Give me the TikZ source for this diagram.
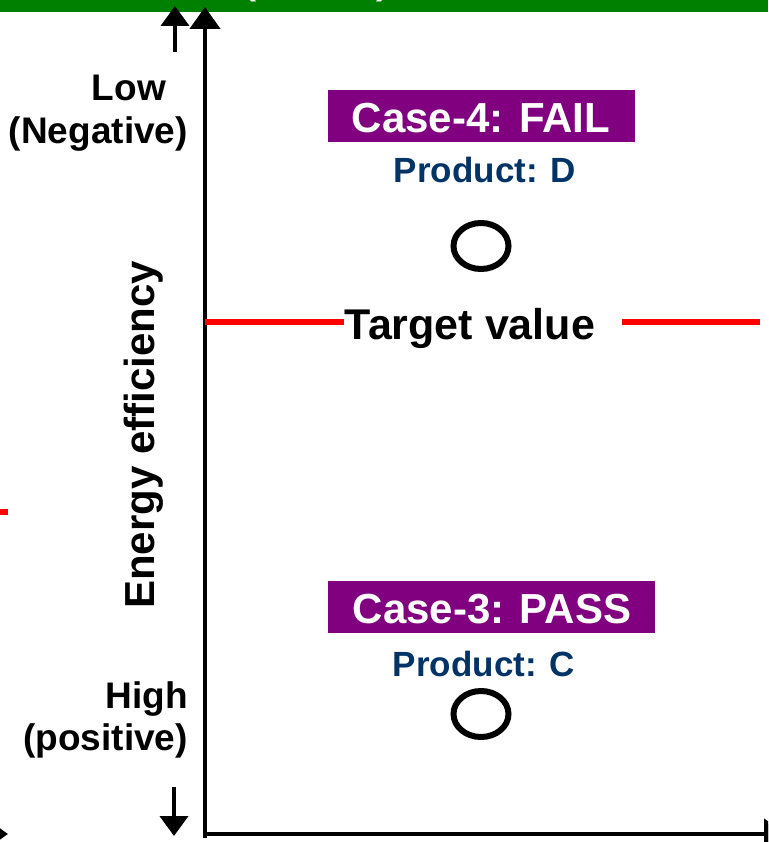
\documentclass[tikz,border=0pt]{standalone}
\usepackage{fontspec}
\setmainfont{Liberation Sans}
\usetikzlibrary{arrows.meta,shapes.geometric}
\definecolor{barGreen}{RGB}{0,128,0}
\definecolor{casePurple}{RGB}{128,0,128}
\definecolor{prodBlue}{RGB}{0,51,102}
\definecolor{targetRed}{RGB}{255,0,0}

\begin{document}
\begin{tikzpicture}[x=1pt,y=-1pt,
  axisline/.style={line width=4.5pt,-{Triangle[width=30pt,length=22pt]}},
  sidearrow/.style={line width=4pt,-{Triangle[width=28pt,length=20pt]}},
  targetline/.style={targetRed,line width=6pt},
  caselabel/.style={text=white,anchor=base,inner sep=0pt,
    font=\bfseries\fontsize{42}{48}\selectfont},
  prodlabel/.style={text=prodBlue,anchor=base,inner sep=0pt,
    font=\bfseries\fontsize{35}{40}\selectfont},
  sidelabel/.style={anchor=base east,inner sep=0pt,
    font=\bfseries\fontsize{37}{42}\selectfont},
  marker/.style={draw,ellipse,line width=6pt,minimum width=55pt,minimum height=46pt,inner sep=0pt},
  bigtext/.style={inner sep=0pt,font=\bfseries\fontsize{42}{48}\selectfont}]
\useasboundingbox (0,0) rectangle (768,842);
\clip (0,0) rectangle (768,842);

% title bar along the top edge
\fill[barGreen] (0,0) rectangle (768,12);
\node[text=white,anchor=base,inner sep=0pt,font=\bfseries\fontsize{36}{42}\selectfont] (parL) at (250,-5) {(};
\node[text=white,anchor=base,inner sep=0pt,font=\bfseries\fontsize{36}{42}\selectfont] (parR) at (382,-5) {)};

% axes
\coordinate (origin) at (205,834);
\coordinate (ybase) at (205,838);
\coordinate (ytop) at (205,7);
\coordinate (xend) at (786,834);
\draw[axisline] (ybase) -- (ytop);
\draw[axisline] (202.75,834) -- (xend);

% pieces of the neighbouring panel at the left edge
\coordinate (lstart) at (-40,834);
\coordinate (ltip) at (8,834);
\draw[axisline] (lstart) -- (ltip);
\coordinate (lredA) at (-20,512);
\coordinate (lredB) at (8,512);
\draw[targetline] (lredA) -- (lredB);

% direction arrows beside the vertical axis
\coordinate (upA) at (175,52);
\coordinate (upB) at (175,6);
\draw[sidearrow] (upA) -- (upB);
\coordinate (dnA) at (174,787);
\coordinate (dnB) at (174,836);
\draw[sidearrow] (dnA) -- (dnB);

% axis labels
\node[sidelabel] (low) at (166,101) {Low};
\node[sidelabel] (neg) at (188,144) {(Negative)};
\node[sidelabel] (high) at (188,708) {High};
\node[sidelabel] (pos) at (188,750) {(positive)};
\node[bigtext,rotate=90] (ylabel) at (144,435) {Energy efficiency};

% target level
\node[bigtext,anchor=base,font=\bfseries\fontsize{43}{48}\selectfont] (target) at (470,339) {Target value};
\coordinate (tA) at (205,322);
\coordinate (tB) at (344,322);
\coordinate (tC) at (622,322);
\coordinate (tD) at (760,322);
\draw[targetline] (tA) -- (tB);
\draw[targetline] (tC) -- (tD);

% case 4
\fill[casePurple] (328,90) rectangle (635,142);
\node[caselabel] (case4) at (481,133) {Case-4: FAIL};
\node[prodlabel] (prodD) at (485,183) {Product: D};
\node[marker] (ptD) at (481,246) {};

% case 3
\fill[casePurple] (328,581) rectangle (655,633);
\node[caselabel] (case3) at (492,623) {Case-3: PASS};
\node[prodlabel] (prodC) at (484,676) {Product: C};
\node[marker] (ptC) at (481,714) {};
\end{tikzpicture}
\end{document}
